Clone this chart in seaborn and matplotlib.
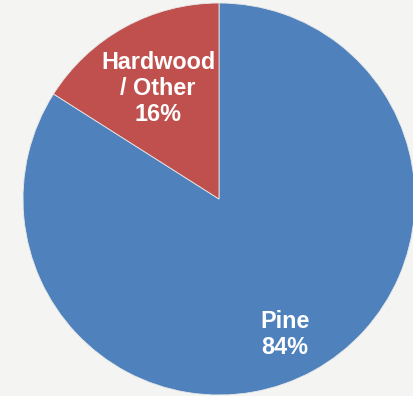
import matplotlib
matplotlib.use("Agg")
import matplotlib.pyplot as plt
import seaborn as sns

# Share of timber by species group
categories = ["Pine", "Hardwood\n/ Other"]
shares = [84, 16]
colors = ["#4F81BD", "#C0504D"]

sns.set_theme(style="white")
plt.rcParams["font.family"] = ["Liberation Sans", "DejaVu Sans"]

fig = plt.figure(figsize=(4.14, 3.96), dpi=100)
fig.patch.set_facecolor("#F4F4F2")
ax = fig.add_axes([0, 0, 1, 1])
ax.set_facecolor("#F4F4F2")

wedges, _ = ax.pie(
    shares,
    colors=colors,
    startangle=90,
    counterclock=False,
    radius=1.0,
    wedgeprops=dict(edgecolor="#E8E8E8", linewidth=0.6),
)

label_pos = {"Pine": (0.337, -0.689), "Hardwood\n/ Other": (-0.311, 0.566)}
for name, val in zip(categories, shares):
    x, y = label_pos[name]
    ax.text(x, y, f"{name}\n{val}%", ha="center", va="center",
            color="white", fontsize=16.8, fontweight="bold", linespacing=1.17)

ax.set_aspect("equal")
ax.set_xlim(-219 / 196, (414 - 219) / 196)
ax.set_ylim(-(396 - 199) / 196, 199 / 196)
ax.axis("off")

fig.savefig("out.png", dpi=100, facecolor=fig.get_facecolor())
